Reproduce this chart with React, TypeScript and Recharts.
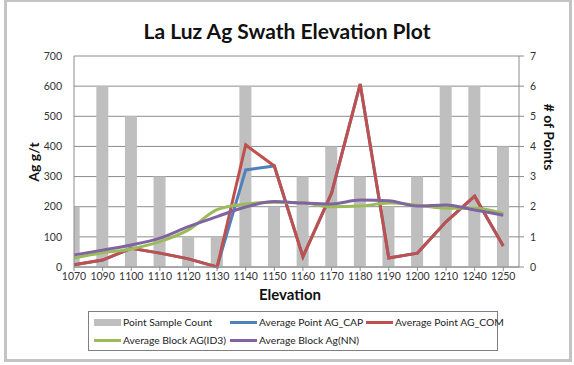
import {
  Bar,
  CartesianGrid,
  ComposedChart,
  Line,
  XAxis,
  YAxis,
} from "recharts";

// Elevation bins (category axis)
const elevations = [
  "1070", "1090", "1100", "1110", "1120", "1130", "1140", "1150",
  "1160", "1170", "1180", "1190", "1200", "1210", "1240", "1250",
];

// Bars - right axis (# of points)
const pointSampleCount = [2, 6, 5, 3, 1, 1, 6, 2, 3, 4, 3, 2, 3, 6, 6, 4];

// Lines - left axis (Ag g/t)
const avgPointAgCap = [7, 23, 62, 46, 27, 0, 322, 335, 34, 245, 607, 30, 46, 150, 235, 70];
const avgPointAgCom = [7, 23, 62, 46, 27, 0, 405, 335, 34, 245, 607, 30, 46, 150, 235, 70];
const avgBlockId3 = [30, 47, 60, 84, 123, 190, 209, 215, 213, 200, 202, 212, 205, 195, 195, 178];
const avgBlockNn = [40, 56, 73, 96, 134, 167, 199, 217, 212, 209, 222, 220, 202, 206, 189, 172];

const leftTicks = [0, 100, 200, 300, 400, 500, 600, 700];
const rightTicks = [0, 1, 2, 3, 4, 5, 6, 7];

const data = elevations.map((elev, i) => ({
  idx: i,
  elev,
  count: pointSampleCount[i],
  cap: avgPointAgCap[i],
  com: avgPointAgCom[i],
  id3: avgBlockId3[i],
  nn: avgBlockNn[i],
}));

const FONT = "Lato, 'Open Sans', sans-serif";
const tickStyle = { fontSize: 10.5, fill: "#333", fontFamily: FONT };

const legendItems = [
  { label: "Point Sample Count", color: "#BFBFBF", bar: true },
  { label: "Average Point AG_CAP", color: "#4F81BD" },
  { label: "Average Point AG_COM", color: "#C0504D" },
  { label: "Average Block AG(ID3)", color: "#9BBB59" },
  { label: "Average Block Ag(NN)", color: "#8064A2" },
];

export default function App() {
  return (
    <div
      style={{
        position: "absolute",
        left: 0,
        top: 0,
        width: 574,
        height: 365,
        background: "#fff",
        fontFamily: FONT,
        overflow: "hidden",
      }}
    >
      {/* outer frame */}
      <div
        style={{
          position: "absolute",
          left: 4,
          top: -1,
          width: 568,
          height: 363,
          border: "3px solid #c4c4c4",
          boxSizing: "border-box",
        }}
      />

      <div
        style={{
          position: "absolute",
          left: 0,
          top: 18,
          width: 574,
          textAlign: "center",
          fontSize: 21,
          fontWeight: 700,
          color: "#111",
        }}
      >
        La Luz Ag Swath Elevation Plot
      </div>

      <div style={{ position: "absolute", left: 0, top: 0 }}>
        <ComposedChart
          width={574}
          height={365}
          data={data}
          margin={{ top: 56, right: 15, left: 30, bottom: 68 }}
        >
          <CartesianGrid
            yAxisId="left"
            vertical={false}
            stroke="#8c8c8c"
            strokeWidth={1}
          />
          <XAxis
            dataKey="idx"
            type="number"
            domain={[0, 15.55]}
            ticks={elevations.map((_, i) => i)}
            interval={0}
            allowDataOverflow
            tickFormatter={(i) => elevations[i] ?? ""}
            tick={tickStyle}
            tickSize={4}
            tickMargin={2}
            height={30}
            stroke="#8c8c8c"
          />
          <YAxis
            yAxisId="left"
            domain={[0, 700]}
            ticks={leftTicks}
            interval={0}
            tick={tickStyle}
            tickSize={0}
            tickMargin={12}
            width={44}
            stroke="#8c8c8c"
          />
          <YAxis
            yAxisId="right"
            orientation="right"
            domain={[0, 7]}
            ticks={rightTicks}
            interval={0}
            tick={tickStyle}
            tickSize={5}
            tickMargin={6}
            width={40}
            stroke="#8c8c8c"
          />

          <Bar
            yAxisId="right"
            dataKey="count"
            fill="#BFBFBF"
            barSize={12}
            isAnimationActive={false}
          />
          <Line
            yAxisId="left"
            type="linear"
            dataKey="cap"
            stroke="#4F81BD"
            strokeWidth={3}
            dot={false}
            isAnimationActive={false}
          />
          <Line
            yAxisId="left"
            type="linear"
            dataKey="com"
            stroke="#C0504D"
            strokeWidth={3}
            dot={false}
            isAnimationActive={false}
          />
          <Line
            yAxisId="left"
            type="monotone"
            dataKey="id3"
            stroke="#9BBB59"
            strokeWidth={3}
            dot={false}
            isAnimationActive={false}
          />
          <Line
            yAxisId="left"
            type="monotone"
            dataKey="nn"
            stroke="#8064A2"
            strokeWidth={3}
            dot={false}
            isAnimationActive={false}
          />
        </ComposedChart>
      </div>

      {/* axis titles */}
      <div
        style={{
          position: "absolute",
          left: 33,
          top: 162,
          transform: "translate(-50%, -50%) rotate(-90deg)",
          fontSize: 14,
          fontWeight: 700,
          whiteSpace: "nowrap",
          color: "#111",
        }}
      >
        Ag g/t
      </div>
      <div
        style={{
          position: "absolute",
          left: 549,
          top: 137,
          transform: "translate(-50%, -50%) rotate(90deg)",
          fontSize: 14,
          fontWeight: 700,
          whiteSpace: "nowrap",
          color: "#111",
        }}
      >
        # of Points
      </div>
      <div
        style={{
          position: "absolute",
          left: 290,
          top: 294,
          transform: "translate(-50%, -50%)",
          fontSize: 15,
          fontWeight: 700,
          whiteSpace: "nowrap",
          color: "#111",
        }}
      >
        Elevation
      </div>

      {/* legend */}
      <div
        style={{
          position: "absolute",
          left: 88,
          top: 311,
          width: 410,
          height: 40,
          border: "1px solid #7f7f7f",
          boxSizing: "border-box",
        }}
      >
        {legendItems.map((item, i) => {
          const col = i < 3 ? i : i - 3;
          const row = i < 3 ? 0 : 1;
          return (
            <div
              key={item.label}
              style={{
                position: "absolute",
                left: 5 + col * 136,
                top: 3 + row * 18,
                height: 14,
                display: "flex",
                alignItems: "center",
                fontSize: 10.3,
                color: "#222",
                whiteSpace: "nowrap",
              }}
            >
              <span
                style={{
                  display: "inline-block",
                  width: 27,
                  height: item.bar ? 7 : 3,
                  background: item.color,
                  marginRight: 2,
                }}
              />
              {item.label}
            </div>
          );
        })}
      </div>
    </div>
  );
}
